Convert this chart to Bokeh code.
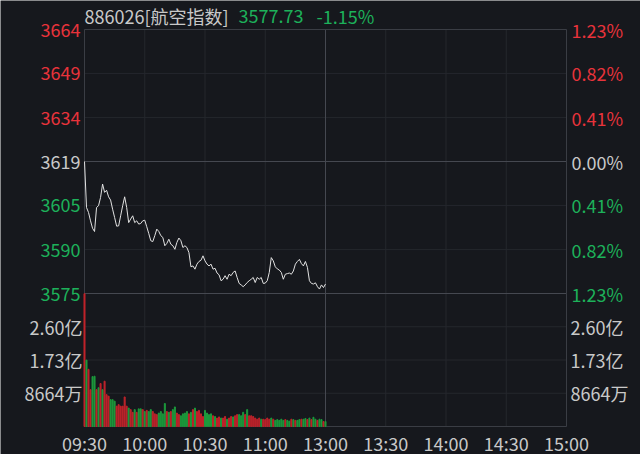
from bokeh.plotting import figure
from bokeh.models import Range1d, ColumnDataSource, LabelSet
from bokeh.embed import file_html
from bokeh.resources import INLINE
from bokeh.core.properties import value

# ---------------- data ----------------
title_code = "886026[航空指数]"
last_price_text = "3577.73"
last_pct_text = "-1.15%"
pre_close = 3619.0

price = [3619.0, 3603.5, 3601.8, 3599.0, 3596.5, 3595.4, 3603.5, 3604.1, 3606.9, 3611.4,
         3608.6, 3609.3, 3607.1, 3606.0, 3602.9, 3600.1, 3597.2, 3597.3, 3600.7, 3604.1,
         3607.1, 3603.5, 3598.4, 3599.6, 3600.7, 3598.4, 3599.0, 3597.9, 3598.1, 3599.0,
         3599.2, 3597.0, 3594.7, 3592.3, 3592.0, 3594.0, 3596.2, 3595.4, 3594.0, 3593.4,
         3590.6, 3591.4, 3592.8, 3591.1, 3590.6, 3589.4, 3591.7, 3593.2, 3592.3, 3590.0,
         3590.6, 3590.0, 3588.3, 3583.5, 3583.8, 3582.7, 3584.4, 3585.3, 3585.7, 3587.2,
         3585.5, 3584.4, 3583.8, 3584.4, 3582.7, 3583.0, 3581.4, 3580.8, 3578.8, 3579.3,
         3580.5, 3579.3, 3581.0, 3580.5, 3581.6, 3582.1, 3579.9, 3577.9, 3577.4, 3576.8,
         3577.4, 3578.2, 3578.8, 3579.3, 3579.9, 3578.2, 3579.9, 3579.3, 3579.9, 3577.9,
         3578.0, 3578.8, 3581.6, 3586.6, 3585.5, 3583.5, 3582.8, 3582.4, 3581.6, 3579.3,
         3581.0, 3581.2, 3581.4, 3581.0, 3582.1, 3584.4, 3585.3, 3586.0, 3584.6, 3583.8,
         3585.3, 3583.3, 3578.8, 3577.9, 3577.7, 3578.1, 3576.8, 3576.0, 3577.4, 3576.5,
         3577.7]

# volume in 亿
volume = [3.46, 1.73, 1.49, 0.96, 1.30, 1.31, 0.96, 1.01, 1.12, 0.96,
          1.18, 0.83, 0.79, 0.70, 0.70, 0.66, 0.53, 0.57, 0.53, 0.53,
          0.77, 0.53, 0.48, 0.44, 0.37, 0.44, 0.37, 0.46, 0.46, 0.44,
          0.39, 0.42, 0.39, 0.44, 0.39, 0.33, 0.31, 0.35, 0.39, 0.33,
          0.60, 0.39, 0.37, 0.39, 0.44, 0.51, 0.35, 0.31, 0.28, 0.33,
          0.35, 0.39, 0.33, 0.37, 0.44, 0.48, 0.39, 0.42, 0.33, 0.26,
          0.42, 0.35, 0.31, 0.33, 0.28, 0.26, 0.22, 0.25, 0.22, 0.22,
          0.26, 0.19, 0.22, 0.26, 0.25, 0.28, 0.31, 0.31, 0.28, 0.37,
          0.31, 0.44, 0.28, 0.28, 0.26, 0.22, 0.19, 0.22, 0.19, 0.19,
          0.18, 0.22, 0.19, 0.22, 0.19, 0.16, 0.18, 0.16, 0.19, 0.16,
          0.18, 0.16, 0.14, 0.19, 0.18, 0.16, 0.16, 0.18, 0.19, 0.19,
          0.21, 0.18, 0.22, 0.18, 0.24, 0.19, 0.16, 0.19, 0.18, 0.13,
          0.13]
# r = up (red), g = down (green)
vol_dir = ("rgrrggrgrg" "rrrgggrrrr" "rrgrrgrggr" "grggrrrggg"
           "grgrggrrgg" "ggrgrgrrrr" "ggggrgrrgr" "rgrrgrrggg"
           "rgrrrrrrgr" "rrrgrggggg" "rggrgrggrg" "grgrggrggr"
           "g")

time_ticks = [0, 30, 60, 90, 120, 150, 180, 210, 240]
time_labels = ["09:30", "10:00", "10:30", "11:00", "13:00", "13:30", "14:00", "14:30", "15:00"]
price_levels = [3663.5, 3648.7, 3633.8, 3619.0, 3604.2, 3589.3, 3574.5]
price_labels = ["3664", "3649", "3634", "3619", "3605", "3590", "3575"]
pct_labels = ["1.23%", "0.82%", "0.41%", "0.00%", "0.41%", "0.82%", "1.23%"]
vol_levels = [2.5992, 1.7328, 0.8664]
vol_labels = ["2.60亿", "1.73亿", "8664万"]
vol_top = 3.4656

# ---------------- style / layout ----------------
BG = "#16181d"
GRID = "#24272d"
FRAME = "#3a3d44"
SEP = "#454850"
RED = "#e8333b"
GREEN = "#1db15a"
GRAY = "#c9c9c9"
BAR_RED = "#c0232b"
BAR_GREEN = "#1c9a3c"
LINE = "#e2e2e2"
FONT = "Noto Sans CJK SC"
FS = "18px"

W, H = 640, 454
FX0, FX1 = 84, 566            # frame left / right (px)
FY0, FYM, FY1 = 29, 293, 426  # frame top / panel split / bottom (px)

p_hi, p_lo = price_levels[0], price_levels[-1]
px_per_min = (FX1 - FX0) / (time_ticks[-1] - time_ticks[0])
px_per_price = (FYM - FY0) / (p_hi - p_lo)
px_per_vol = (FY1 - FYM) / vol_top

x_start = time_ticks[0] - FX0 / px_per_min
x_end = time_ticks[-1] + (W - FX1) / px_per_min
y_end = p_hi + FY0 / px_per_price
y_start = p_lo - (H - FYM) / px_per_price
v_start = -(H - FY1) / px_per_vol
v_end = vol_top + FYM / px_per_vol


def px_x(px):
    return time_ticks[0] + (px - FX0) / px_per_min


def py_price(py):
    return p_hi - (py - FY0) / px_per_price


def py_vol(py):
    return (FY1 - py) / px_per_vol


p = figure(width=W, height=H, output_backend="svg", toolbar_location=None,
           x_range=Range1d(x_start, x_end), y_range=Range1d(y_start, y_end),
           x_axis_location=None, y_axis_location=None, min_border=0,
           min_border_left=0, min_border_right=0, min_border_top=0, min_border_bottom=0)
p.extra_y_ranges = {"vol": Range1d(v_start, v_end)}
p.background_fill_color = BG
p.border_fill_color = BG
p.outline_line_color = None
p.xgrid.visible = False
p.ygrid.visible = False

t0, t1 = time_ticks[0], time_ticks[-1]
frame_bottom_price = py_price(FY1)

# vertical grid lines
inner_t = time_ticks[1:-1]
p.segment(x0=inner_t, x1=inner_t, y0=[frame_bottom_price] * len(inner_t),
          y1=[p_hi] * len(inner_t), line_color=GRID, line_width=1)
# horizontal price grid lines
p.segment(x0=[t0] * 7, x1=[t1] * 7, y0=price_levels, y1=price_levels,
          line_color=GRID, line_width=1)
# volume grid lines
p.segment(x0=[t0] * 3, x1=[t1] * 3, y0=vol_levels, y1=vol_levels,
          line_color=GRID, line_width=1, y_range_name="vol")
# brighter separators: pre-close, panel split, midday
p.segment(x0=[t0, t0], x1=[t1, t1], y0=[pre_close, p_lo], y1=[pre_close, p_lo],
          line_color=SEP, line_width=1)
p.segment(x0=[time_ticks[4]], x1=[time_ticks[4]], y0=[frame_bottom_price], y1=[p_hi],
          line_color=SEP, line_width=1)
# frame
p.quad(left=[t0], right=[t1], top=[p_hi], bottom=[frame_bottom_price],
       fill_color=None, line_color=FRAME, line_width=1)

bar_colors = [BAR_RED if c == "r" else BAR_GREEN for c in vol_dir]
p.vbar(x=list(range(len(volume))), top=volume, width=0.5, color=bar_colors,
       y_range_name="vol")
p.line(list(range(len(price))), price, line_color=LINE, line_width=1)


# ---------------- labels ----------------
def col(level):
    if abs(level - pre_close) < 0.05:
        return GRAY
    return RED if level > pre_close else GREEN


def labels(xs, ys, texts, colors, align, x_off, yname="default"):
    src = ColumnDataSource(dict(x=xs, y=ys, t=texts, c=colors))
    p.add_layout(LabelSet(x="x", y="y", text="t", source=src, x_offset=x_off,
                          y_range_name=yname, text_align=align, text_baseline="middle",
                          text_color="c", text_font=value(FONT), text_font_size=value(FS)))


pcols = [col(v) for v in price_levels]
labels([t0] * 7, price_levels, price_labels, pcols, "right", -4)
labels([t1] * 7, price_levels, pct_labels, pcols, "left", 5)
labels([t0] * 3, vol_levels, vol_labels, [GRAY] * 3, "right", -2, "vol")
labels([t1] * 3, vol_levels, vol_labels, [GRAY] * 3, "left", 4, "vol")
labels(time_ticks, [py_vol(442)] * len(time_ticks), time_labels, [GRAY] * 9, "center", 0, "vol")

ty = py_price(15)
labels([px_x(84), px_x(238), px_x(316)], [ty] * 3,
       [title_code, last_price_text, last_pct_text],
       [GRAY, GREEN, GREEN], "left", 0)

open("out.html", "w").write(file_html(p, INLINE))
